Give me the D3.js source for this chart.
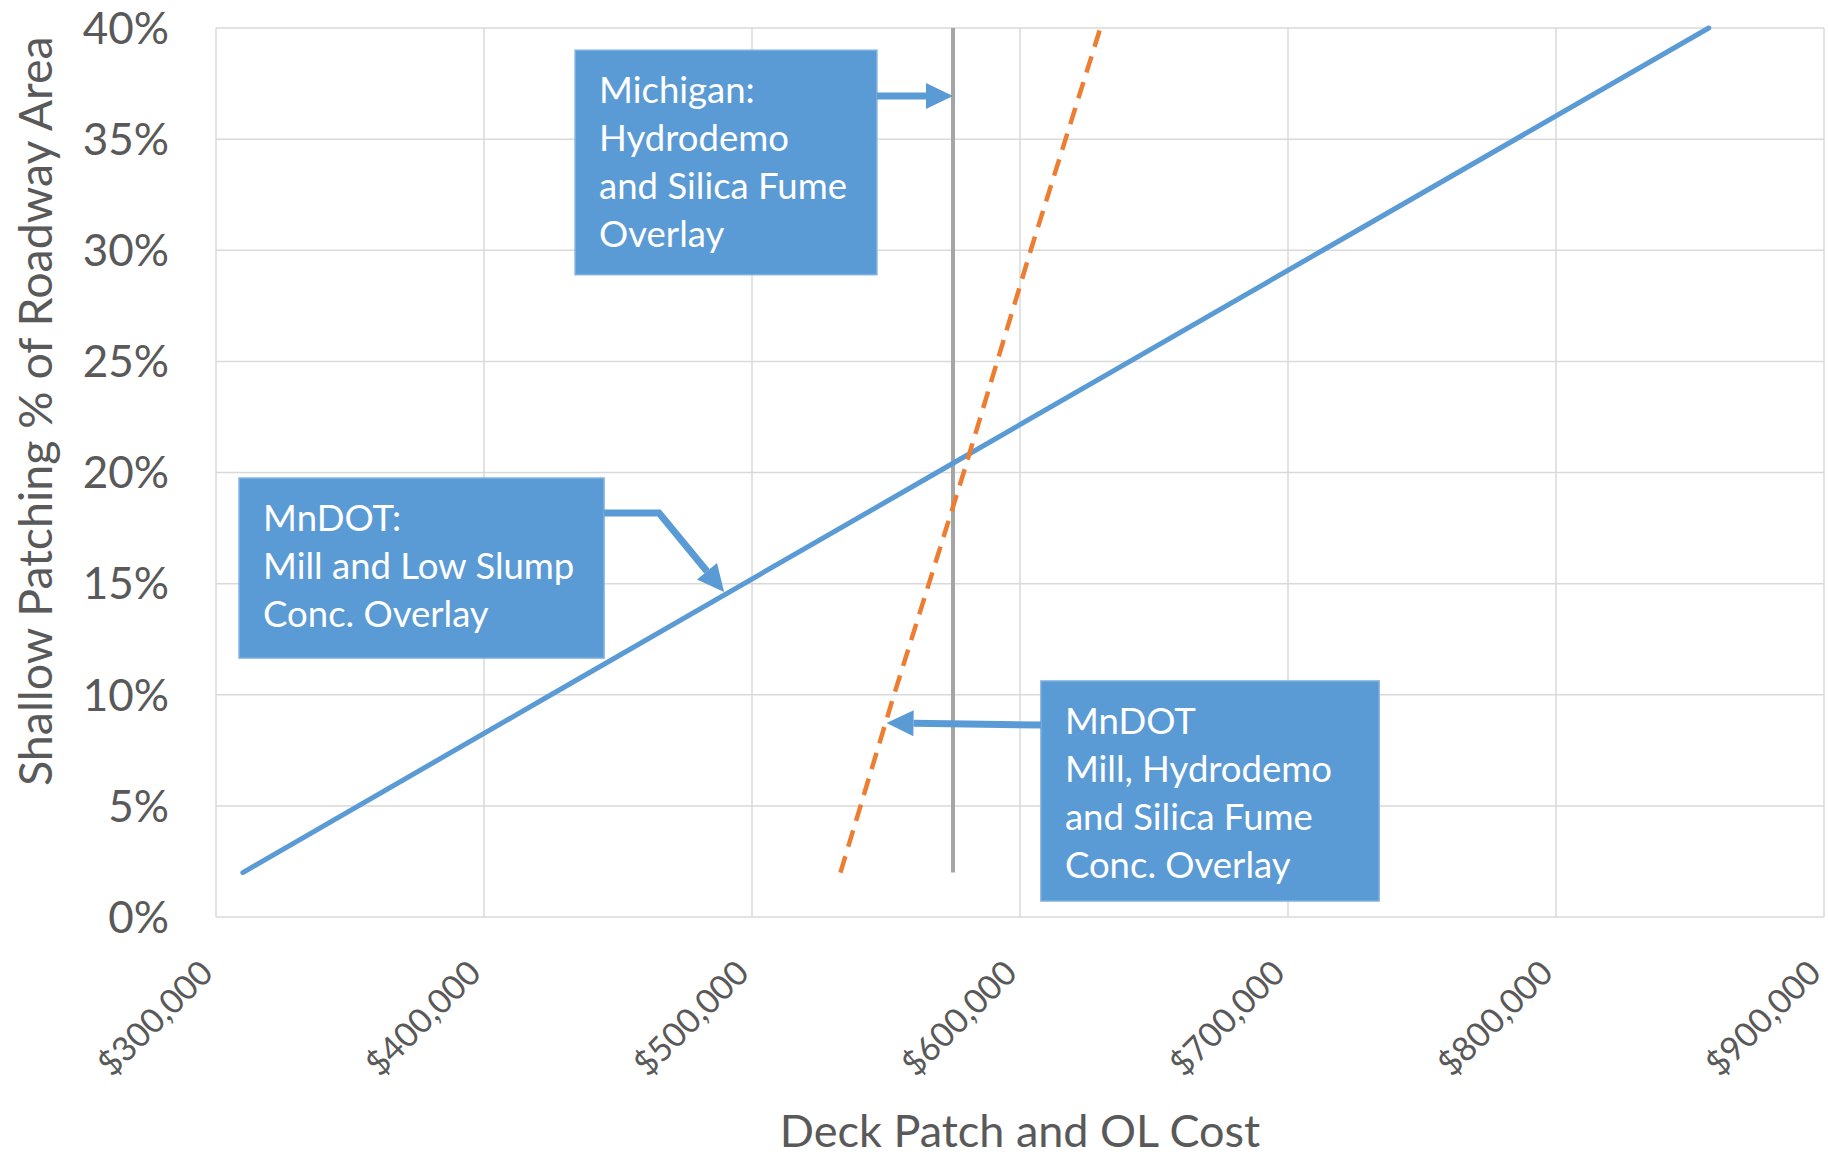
<!DOCTYPE html>
<html>
<head>
<meta charset="utf-8">
<script src="https://cdn.jsdelivr.net/npm/d3@7"></script>
<style>
  body { margin: 0; background: #fff; }
  svg { display: block; font-family: Lato, "Open Sans", sans-serif; }
</style>
</head>
<body>
<div id="chart"></div>
<script>
const width = 1828;
const height = 1156;

// x ticks (cost) and y ticks (share of roadway area)
const costTicks = [300000, 400000, 500000, 600000, 700000, 800000, 900000];
const pctTicks = [0, 0.05, 0.10, 0.15, 0.20, 0.25, 0.30, 0.35, 0.40];

// MnDOT: Mill and Low Slump Conc. Overlay (solid blue)
const lowSlumpCost = [310000, 425000, 569000, 713000, 857000];
const lowSlumpPct  = [0.02, 0.10, 0.20, 0.30, 0.40];

// MnDOT: Mill, Hydrodemo and Silica Fume Conc. Overlay (dashed orange)
const hydroCost = [533000, 553000, 579000, 604000, 630000];
const hydroPct  = [0.02, 0.10, 0.20, 0.30, 0.40];

// Michigan: Hydrodemo and Silica Fume Overlay (grey, constant cost)
const michiganCost = [575000, 575000];
const michiganPct  = [0.02, 0.40];

// callout boxes, placed in data space
const notes = [
  { lines: ["Michigan:", "Hydrodemo", "and Silica Fume", "Overlay"],
    x0: 434000, x1: 546600, y0: 0.390, y1: 0.289,
    arrow: [[546600, 0.3694], [575000, 0.3694]] },
  { lines: ["MnDOT:", "Mill and Low Slump", "Conc. Overlay"],
    x0: 308600, x1: 444800, y0: 0.1975, y1: 0.1165,
    arrow: [[444800, 0.1818], [465300, 0.1818], [489600, 0.1462]] },
  { lines: ["MnDOT", "Mill, Hydrodemo", "and Silica Fume", "Conc. Overlay"],
    x0: 607800, x1: 734000, y0: 0.1062, y1: 0.0072,
    arrow: [[607800, 0.0864], [550200, 0.0873]] }
];

const margin = { top: 28, right: 4, bottom: 239, left: 216 };

const svg = d3.select("#chart").append("svg")
  .attr("width", width)
  .attr("height", height);

const x = d3.scaleLinear()
  .domain([300000, 900000])
  .range([margin.left, width - margin.right]);

const y = d3.scaleLinear()
  .domain([0, 0.40])
  .range([height - margin.bottom, margin.top]);

const textColor = "#595959";
const gridColor = "#d9d9d9";
const boxBlue = "#5b9bd5";

// grid
svg.append("g").selectAll("line.h")
  .data(pctTicks)
  .join("line")
  .attr("x1", x.range()[0]).attr("x2", x.range()[1])
  .attr("y1", d => y(d)).attr("y2", d => y(d))
  .attr("stroke", gridColor).attr("stroke-width", 1.5);

svg.append("g").selectAll("line.v")
  .data(costTicks)
  .join("line")
  .attr("y1", y.range()[0]).attr("y2", y.range()[1])
  .attr("x1", d => x(d)).attr("x2", d => x(d))
  .attr("stroke", gridColor).attr("stroke-width", 1.5);

// y tick labels
svg.append("g").selectAll("text")
  .data(pctTicks)
  .join("text")
  .attr("x", margin.left - 47)
  .attr("y", d => y(d))
  .attr("dy", "0.36em")
  .attr("text-anchor", "end")
  .attr("fill", textColor)
  .attr("font-size", "44px")
  .text(d3.format(".0%"));

// x tick labels, rotated
const fmtCost = d3.format("$,.0f");
svg.append("g").selectAll("text")
  .data(costTicks)
  .join("text")
  .attr("transform", d => `translate(${x(d) - 1},${y(0) + 58}) rotate(-45)`)
  .attr("text-anchor", "end")
  .attr("fill", textColor)
  .attr("font-size", "34px")
  .text(fmtCost);

// axis titles
svg.append("text")
  .attr("x", (x.range()[0] + x.range()[1]) / 2)
  .attr("y", 1147)
  .attr("text-anchor", "middle")
  .attr("fill", textColor)
  .attr("font-size", "45px")
  .text("Deck Patch and OL Cost");

svg.append("text")
  .attr("transform", "translate(52,786) rotate(-90)")
  .attr("text-anchor", "start")
  .attr("fill", textColor)
  .attr("font-size", "46.5px")
  .text("Shallow Patching % of Roadway Area");

// series
const line = d3.line().x(d => x(d[0])).y(d => y(d[1]));

svg.append("path")
  .datum(michiganCost.map((c, i) => [c, michiganPct[i]]))
  .attr("d", line)
  .attr("fill", "none")
  .attr("stroke", "#a5a5a5")
  .attr("stroke-width", 4);

svg.append("path")
  .datum(lowSlumpCost.map((c, i) => [c, lowSlumpPct[i]]))
  .attr("d", line)
  .attr("fill", "none")
  .attr("stroke", "#5b9bd5")
  .attr("stroke-width", 5)
  .attr("stroke-linecap", "round");

svg.append("path")
  .datum(hydroCost.map((c, i) => [c, hydroPct[i]]))
  .attr("d", line)
  .attr("fill", "none")
  .attr("stroke", "#ed7d31")
  .attr("stroke-width", 4.5)
  .attr("stroke-dasharray", "17,10");

// callouts
const headLen = 27, headHalf = 13;
const noteG = svg.append("g").selectAll("g")
  .data(notes)
  .join("g");

noteG.append("rect")
  .attr("x", d => x(d.x0))
  .attr("y", d => y(d.y0))
  .attr("width", d => x(d.x1) - x(d.x0))
  .attr("height", d => y(d.y1) - y(d.y0))
  .attr("fill", boxBlue)
  .attr("stroke", "#7fb1e0")
  .attr("stroke-width", 1.5);

noteG.each(function(d) {
  const g = d3.select(this);
  const left = x(d.x0) + 24;
  const top = y(d.y0) + 53;
  g.selectAll("text")
    .data(d.lines)
    .join("text")
    .attr("x", left)
    .attr("y", (t, i) => top + i * 48)
    .attr("fill", "#fff")
    .attr("font-size", "36.5px")
    .text(t => t);

  // arrow: shaft stops at the head base, head drawn as a triangle
  const pts = d.arrow.map(p => [x(p[0]), y(p[1])]);
  const tip = pts[pts.length - 1];
  const prev = pts[pts.length - 2];
  const ang = Math.atan2(tip[1] - prev[1], tip[0] - prev[0]);
  const base = [tip[0] - headLen * Math.cos(ang), tip[1] - headLen * Math.sin(ang)];
  const shaft = pts.slice(0, -1).concat([base]);
  g.append("path")
    .attr("d", d3.line()(shaft))
    .attr("fill", "none")
    .attr("stroke", boxBlue)
    .attr("stroke-width", 7);
  const nx = -Math.sin(ang), ny = Math.cos(ang);
  g.append("path")
    .attr("d", d3.line()([
      tip,
      [base[0] + nx * headHalf, base[1] + ny * headHalf],
      [base[0] - nx * headHalf, base[1] - ny * headHalf]
    ]) + "Z")
    .attr("fill", boxBlue);
});
</script>
</body>
</html>
